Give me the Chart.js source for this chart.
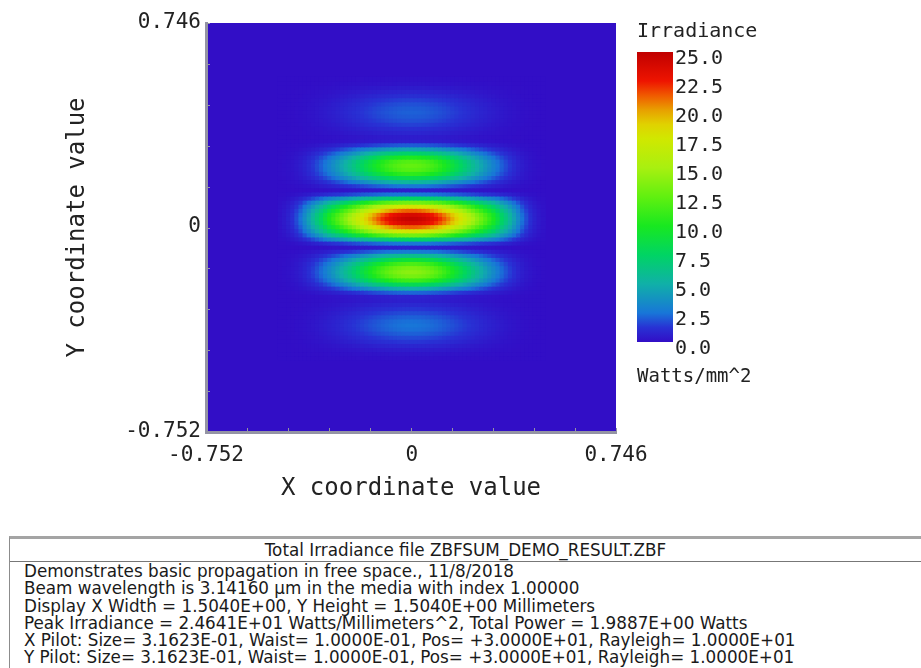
<!DOCTYPE html>
<html>
<head>
<meta charset="utf-8">
<script src="https://cdn.jsdelivr.net/npm/chart.js@4.4.1/dist/chart.umd.min.js"></script>
<style>
  html, body { margin: 0; padding: 0; background: #fff; }
  body { width: 921px; height: 668px; position: relative; overflow: hidden; }
  #map { position: absolute; left: 0; top: 0; }
  #bar { position: absolute; left: 600px; top: 0; }
  #info {
    position: absolute; left: 9px; top: 536px; width: 912px; height: 132px;
    box-sizing: border-box; border-top: 3px solid #a4a4a4; border-left: 1px solid #8c8c8c;
    font-family: "DejaVu Sans", sans-serif; font-size: 16.8px; color: #1a1a1a;
  }
  #info .head { height: 22px; line-height: 22px; text-align: center; border-bottom: 1px solid #777; }
  #info .body { padding: 1px 0 0 14px; line-height: 17.3px; white-space: pre; }
</style>
</head>
<body>
<canvas id="map" width="660" height="520"></canvas>
<canvas id="bar" width="220" height="402"></canvas>
<div id="info">
  <div class="head">Total Irradiance file ZBFSUM_DEMO_RESULT.ZBF</div>
  <div class="body">Demonstrates basic propagation in free space., 11/8/2018
Beam wavelength is 3.14160 μm in the media with index 1.00000
Display X Width = 1.5040E+00, Y Height = 1.5040E+00 Millimeters
Peak Irradiance = 2.4641E+01 Watts/Millimeters^2, Total Power = 1.9887E+00 Watts
X Pilot: Size= 3.1623E-01, Waist= 1.0000E-01, Pos= +3.0000E+01, Rayleigh= 1.0000E+01
Y Pilot: Size= 3.1623E-01, Waist= 1.0000E-01, Pos= +3.0000E+01, Rayleigh= 1.0000E+01</div>
</div>
<script>
// detector sampling grid (mm)
const gridStep = 0.015;
const xStart = -0.48;
const yStart = -0.48;

// relative irradiance across X, left to right (x = -0.48 .. 0.48)
// central lobe
const xProfileCore = [
  0.008, 0.016, 0.028, 0.045, 0.07, 0.10, 0.14, 0.18, 0.225, 0.27, 0.31, 0.36, 0.41, 0.448, 0.487, 0.526,
  0.566, 0.607, 0.647, 0.687, 0.726, 0.764, 0.80, 0.835, 0.867, 0.897, 0.923, 0.946, 0.965, 0.98, 0.991, 0.998,
  1.0,
  0.998, 0.991, 0.98, 0.965, 0.946, 0.923, 0.897, 0.867, 0.835, 0.80, 0.764, 0.726, 0.687, 0.647, 0.607, 0.566,
  0.526, 0.487, 0.448, 0.41, 0.36, 0.31, 0.27, 0.225, 0.18, 0.14, 0.10, 0.07, 0.045, 0.028, 0.016, 0.008
];
// side and outer lobes (narrower)
const xProfileSide = [
  0.002, 0.005, 0.01, 0.017, 0.027, 0.04, 0.058, 0.08, 0.106, 0.135, 0.167, 0.202, 0.24, 0.28, 0.323, 0.368,
  0.414, 0.462, 0.512, 0.562, 0.612, 0.662, 0.712, 0.76, 0.805, 0.847, 0.886, 0.92, 0.948, 0.97, 0.987, 0.997,
  1.0,
  0.997, 0.987, 0.97, 0.948, 0.92, 0.886, 0.847, 0.805, 0.76, 0.712, 0.662, 0.612, 0.562, 0.512, 0.462, 0.414,
  0.368, 0.323, 0.28, 0.24, 0.202, 0.167, 0.135, 0.106, 0.08, 0.058, 0.04, 0.027, 0.017, 0.01, 0.005, 0.002
];

// irradiance (W/mm^2) along Y through x = 0, bottom to top (y = -0.48 .. 0.54)
const yProfile = [
  0.1, 0.25, 0.5, 0.85, 1.3, 1.7, 2.1, 2.4, 2.5, 2.4, 2.1, 1.7, 1.3, 0.9, 0.6, 0.7, 2.2,
  5.0, 8.2, 11.3, 13.3, 14.0, 13.4, 11.8, 9.2, 6.0, 2.8, 0.6, 2.6, 7.5, 13.2, 17.8, 21.2, 23.8,
  24.6,
  23.8, 21.2, 17.8, 13.2, 7.5, 2.6, 0.6, 2.6, 5.4, 8.4, 10.8, 12.2, 12.6, 12.1, 10.2, 7.4, 4.5,
  2.0, 0.6, 0.5, 0.8, 1.1, 1.5, 1.8, 2.0, 2.1, 2.0, 1.8, 1.5, 1.1, 0.75, 0.45, 0.2, 0.1
];
// rows (indices into yProfile) that belong to the central lobe
const coreRows = [28, 40];

const axisMin = -0.752;
const axisMax = 0.746;
const axisLabels = [-0.752, 0, 0.746];
const minorTicks = [-0.752, -0.602, -0.453, -0.303, -0.153, -0.003, 0.147, 0.297, 0.446, 0.596, 0.746];

const cbarMin = 0;
const cbarMax = 25;
const cbarTicks = [0, 2.5, 5, 7.5, 10, 12.5, 15, 17.5, 20, 22.5, 25];
const cbarTitle = 'Irradiance';
const cbarUnit = 'Watts/mm^2';

// false colour scale
const stops = [
  [0.00, [50, 14, 198]],
  [0.05, [40, 50, 212]],
  [0.10, [24, 118, 216]],
  [0.20, [16, 176, 168]],
  [0.30, [0, 212, 100]],
  [0.40, [24, 232, 32]],
  [0.50, [96, 240, 16]],
  [0.60, [168, 240, 16]],
  [0.70, [208, 232, 0]],
  [0.75, [224, 210, 0]],
  [0.80, [232, 160, 0]],
  [0.85, [240, 90, 0]],
  [0.90, [238, 20, 0]],
  [1.00, [192, 0, 0]]
];

function cmap(t) {
  t = Math.max(0, Math.min(1, t));
  for (let i = 1; i < stops.length; i++) {
    if (t <= stops[i][0]) {
      const [t0, c0] = stops[i - 1];
      const [t1, c1] = stops[i];
      const f = (t - t0) / (t1 - t0);
      const c = c0.map((v, k) => Math.round(v + (c1[k] - v) * f));
      return `rgb(${c[0]},${c[1]},${c[2]})`;
    }
  }
  const c = stops[stops.length - 1][1];
  return `rgb(${c[0]},${c[1]},${c[2]})`;
}

const mono = "'DejaVu Sans Mono', monospace";
const textColor = '#222';
const edgeColor = '#9494a4';

const cells = [];
for (let j = 0; j < yProfile.length; j++) {
  const xp = (j >= coreRows[0] && j <= coreRows[1]) ? xProfileCore : xProfileSide;
  for (let i = 0; i < xp.length; i++) {
    cells.push({
      x: xStart + i * gridStep,
      y: yStart + j * gridStep,
      v: yProfile[j] * xp[i]
    });
  }
}

const plotBackground = {
  id: 'plotBackground',
  beforeDraw(chart) {
    const { ctx, chartArea: a } = chart;
    ctx.save();
    ctx.fillStyle = cmap(0);
    ctx.fillRect(a.left, a.top, a.right - a.left, a.bottom - a.top);
    ctx.restore();
  }
};

const innerTicks = {
  id: 'innerTicks',
  afterDatasetsDraw(chart) {
    const { ctx, chartArea: a, scales } = chart;
    ctx.save();
    ctx.strokeStyle = edgeColor;
    ctx.lineWidth = 1;
    ctx.beginPath();
    minorTicks.forEach(v => {
      const px = Math.round(scales.x.getPixelForValue(v)) + 0.5;
      ctx.moveTo(px, a.bottom);
      ctx.lineTo(px, a.bottom - 4);
      const py = Math.round(scales.y.getPixelForValue(v)) + 0.5;
      ctx.moveTo(a.left, py);
      ctx.lineTo(a.left + 4, py);
    });
    ctx.stroke();
    ctx.restore();
  }
};

const unitLabel = {
  id: 'unitLabel',
  afterDraw(chart) {
    const { ctx, chartArea: a } = chart;
    ctx.save();
    ctx.font = `19px ${mono}`;
    ctx.fillStyle = textColor;
    ctx.textAlign = 'left';
    ctx.textBaseline = 'middle';
    ctx.fillText(cbarUnit, a.left, a.bottom + 35);
    ctx.restore();
  }
};

new Chart(document.getElementById('map'), {
  type: 'scatter',
  data: {
    datasets: [{
      data: cells,
      pointStyle: 'rect',
      pointBorderWidth: 0,
      pointBackgroundColor: c => cmap(c.raw.v / cbarMax),
      pointRadius: c => {
        const s = c.chart.scales.x;
        const px = Math.abs(s.getPixelForValue(gridStep) - s.getPixelForValue(0));
        return (px + 1) / Math.SQRT2;
      }
    }]
  },
  options: {
    responsive: false,
    animation: false,
    events: [],
    layout: { padding: { left: 0, right: 44, top: 23, bottom: 0 } },
    plugins: { legend: { display: false }, tooltip: { enabled: false } },
    scales: {
      x: {
        type: 'linear', min: axisMin, max: axisMax,
        afterBuildTicks: s => { s.ticks = axisLabels.map(v => ({ value: v })); },
        afterFit: s => { s.height = 88; },
        ticks: { callback: v => String(v), font: { family: mono, size: 21 }, color: textColor, padding: 11, maxRotation: 0, autoSkip: false },
        grid: { display: false, drawTicks: false },
        border: { display: true, color: edgeColor, width: 3 },
        title: { display: true, text: 'X coordinate value', font: { family: mono, size: 24 }, color: textColor, padding: { top: 0, bottom: 17 } }
      },
      y: {
        type: 'linear', min: axisMin, max: axisMax,
        afterBuildTicks: s => { s.ticks = axisLabels.map(v => ({ value: v })); },
        afterFit: s => { s.width = 206; },
        ticks: { callback: v => String(v), font: { family: mono, size: 21 }, color: textColor, padding: 5, autoSkip: false },
        grid: { display: false, drawTicks: false },
        border: { display: true, color: edgeColor, width: 3 },
        title: { display: true, text: 'Y coordinate value', font: { family: mono, size: 24 }, color: textColor, padding: { top: 63, bottom: 0 } }
      }
    }
  },
  plugins: [plotBackground, innerTicks]
});

new Chart(document.getElementById('bar'), {
  type: 'bar',
  data: {
    labels: [''],
    datasets: [{
      data: [[cbarMin, cbarMax]],
      borderWidth: 0,
      barPercentage: 1,
      categoryPercentage: 1,
      backgroundColor: c => {
        const chart = c.chart;
        if (!chart.chartArea) return cmap(0);
        const y = chart.scales.y;
        const g = chart.ctx.createLinearGradient(0, y.getPixelForValue(cbarMin), 0, y.getPixelForValue(cbarMax));
        stops.forEach(([t, col]) => g.addColorStop(t, `rgb(${col[0]},${col[1]},${col[2]})`));
        return g;
      }
    }]
  },
  options: {
    responsive: false,
    animation: false,
    events: [],
    layout: { padding: { left: 37, right: 0, top: 0, bottom: 0 } },
    plugins: {
      legend: { display: false },
      tooltip: { enabled: false },
      title: { display: true, text: cbarTitle, align: 'start', font: { family: mono, size: 20, weight: 'normal' }, color: textColor, padding: { top: 20, bottom: 8 } }
    },
    scales: {
      x: {
        afterFit: s => { s.height = 60; },
        ticks: { display: false },
        grid: { display: false, drawTicks: false },
        border: { display: false }
      },
      y: {
        position: 'right', min: cbarMin, max: cbarMax,
        afterBuildTicks: s => { s.ticks = cbarTicks.map(v => ({ value: v })); },
        afterFit: s => { s.width = 147; },
        ticks: { callback: v => v.toFixed(1), font: { family: mono, size: 20 }, color: textColor, padding: 2, labelOffset: 7, autoSkip: false },
        grid: { display: false, drawTicks: false },
        border: { display: false }
      }
    }
  },
  plugins: [unitLabel]
});
</script>
</body>
</html>
